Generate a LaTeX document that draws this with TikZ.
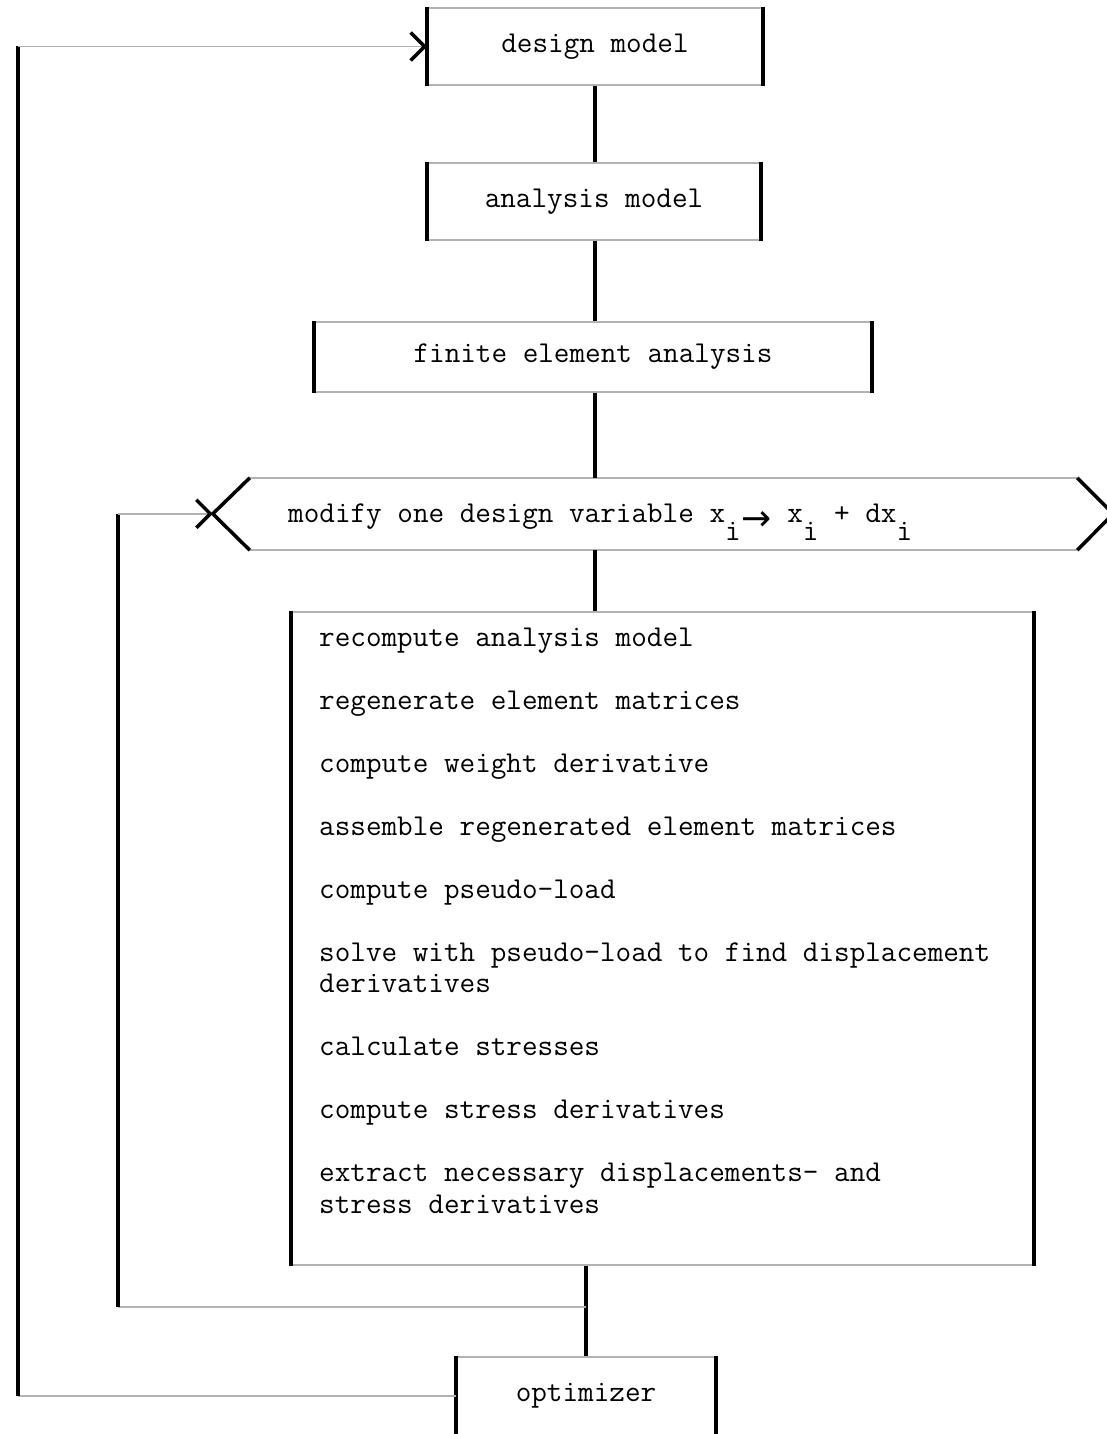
\documentclass[tikz,border=0pt]{standalone}
\usepackage{fontspec}
\newfontfamily\arrowfont{DejaVu Sans}
\usetikzlibrary{arrows.meta}

\newcommand{\lowi}[1]{\raisebox{-18pt}{#1}}
\newcommand{\txtarrow}{\makebox[31pt]{\arrowfont\fontsize{36pt}{36pt}\selectfont\raisebox{-8pt}{→}}}

\begin{document}
\begin{tikzpicture}[x=1pt,y=-1pt,
    every node/.style={font=\ttfamily\fontsize{30.3pt}{31.5pt}\selectfont},
    hline/.style={draw=gray!60, line width=1.8pt},
    vline/.style={draw=black, line width=3.5pt},
    box/.style={hline, inner sep=0pt,
      append after command={
        (\tikzlastnode.north west) edge[vline] (\tikzlastnode.south west)
        (\tikzlastnode.north east) edge[vline] (\tikzlastnode.south east)}},
    loop arrow/.style={hline,
      -{Straight Barb[length=14pt,width=28pt,line width=3.5pt,color=black]}}]

  \useasboundingbox (0,0) rectangle (1106,1434);

  %boxes%
  \node[box, minimum width=334pt, minimum height=77pt] (design) at (595,46.5) {design model};
  \node[box, minimum width=332pt, minimum height=77pt] (analysis) at (594,201.5) {analysis model};
  \node[box, minimum width=556pt, minimum height=70pt] (finite) at (593,357) {finite element analysis};

  %hexagon%
  \node[minimum width=827pt, minimum height=72pt, inner sep=0pt] (modify) at (663.5,514) {};
  \draw[hline] (modify.north west) -- (modify.north east)
               (modify.south west) -- (modify.south east);
  \draw[vline] (modify.north west) -- ++(-37,36) coordinate (tipW) -- (modify.south west);
  \draw[vline] (modify.north east) -- ++(36,36) -- (modify.south east);
  \node[anchor=base west, inner sep=0pt] (modtext) at (288,522)
    {modify one design variable x\lowi{i}\txtarrow{} x\lowi{i} + dx\lowi{i}};

  %steps%
  \node[box, minimum width=741pt, minimum height=653pt] (steps) at (662.5,938.5) {};
  \node[anchor=base west, inner sep=0pt, text width=700pt, align=left] (steptext) at (319,646)
    {\spaceskip=0pt\xspaceskip=0pt\relax
     recompute analysis model\\[31.5pt]
     regenerate element matrices\\[31.5pt]
     compute weight derivative\\[31.5pt]
     assemble regenerated element matrices\\[31.5pt]
     compute pseudo-load\\[31.5pt]
     solve with pseudo-load to find displacement\\
     derivatives\\[31.5pt]
     calculate stresses\\[31.5pt]
     compute stress derivatives\\[31.5pt]
     extract necessary displacements- and\\
     stress derivatives};

  \node[box, minimum width=258pt, minimum height=78pt] (opt) at (586,1396) {optimizer};

  %main line%
  \draw[vline] (design.south) -- (design.south |- analysis.north);
  \draw[vline] (design.south |- analysis.south) -- (design.south |- finite.north);
  \draw[vline] (design.south |- finite.south) -- (design.south |- modify.north);
  \draw[vline] (design.south |- modify.south) -- (design.south |- steps.north);
  \draw[vline] (steps.south -| opt.north) -- (opt.north);

  %loops%
  \coordinate (join) at ([yshift=49pt]opt.north);
  \coordinate (innerx) at (118,0);
  \coordinate (outerx) at (18,0);

  \draw[hline] (join) -- (join -| innerx);
  \draw[vline] (join -| innerx) -- (innerx |- tipW);
  \draw[loop arrow] (innerx |- tipW) -- (tipW);

  \draw[hline] (opt.west) -- (opt.west -| outerx);
  \draw[vline] (opt.west -| outerx) -- (outerx |- design.west);
  \draw[loop arrow] (outerx |- design.west) -- (design.west);
\end{tikzpicture}
\end{document}
